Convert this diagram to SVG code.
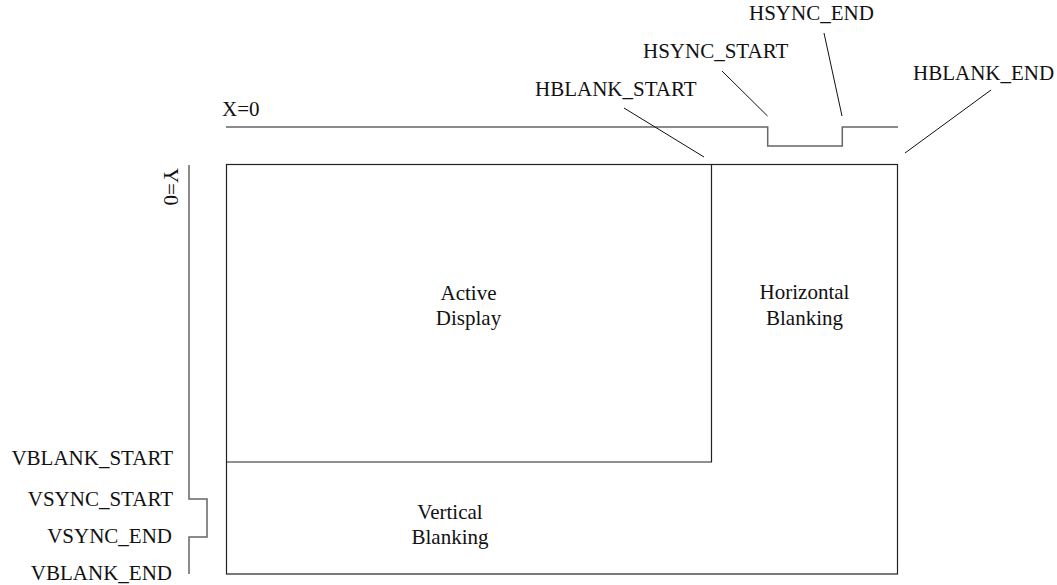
<svg xmlns="http://www.w3.org/2000/svg" width="1057" height="585" viewBox="0 0 1057 585">
<style>
text{font-family:"Liberation Serif","Times New Roman",serif;font-size:21px;fill:#111}
.box{fill:none;stroke:#222;stroke-width:1.2}
.axis{fill:none;stroke:#666;stroke-width:1.5}
.lead{fill:none;stroke:#111;stroke-width:1}
.c{text-anchor:middle}
.e{text-anchor:end}
</style>
<rect width="1057" height="585" fill="#fff"/>
<g id="screen">
<rect class="box" x="226.5" y="164.5" width="671" height="409.5"/>
</g>
<g id="active-display">
<path class="box" d="M226.5 164.5 H711.5 V462 H226.5"/>
<text class="c" x="468.5" y="300">Active</text>
<text class="c" x="468.5" y="325">Display</text>
</g>
<g id="horizontal-blanking">
<text class="c" x="804.5" y="299">Horizontal</text>
<text class="c" x="804.5" y="325">Blanking</text>
</g>
<g id="vertical-blanking">
<text class="c" x="450" y="519">Vertical</text>
<text class="c" x="450" y="544">Blanking</text>
</g>
<g id="x-axis">
<text x="222" y="116">X=0</text>
</g>
<g id="y-axis">
<text transform="translate(164,168) rotate(90)">Y=0</text>
</g>
<g id="labels">
<text x="535" y="96">HBLANK_START</text>
<text x="643" y="58">HSYNC_START</text>
<text x="749" y="20">HSYNC_END</text>
<text x="913" y="80">HBLANK_END</text>
<text class="e" x="173" y="465">VBLANK_START</text>
<text class="e" x="173" y="506">VSYNC_START</text>
<text class="e" x="172" y="543">VSYNC_END</text>
<text class="e" x="172" y="580">VBLANK_END</text>
</g>
<g id="connectors">
<path class="axis" d="M226 127 H767.7 V146 H842.3 V127 H898"/>
<path class="axis" d="M189 165 V499 H207 V537 H189 V574"/>
<line class="lead" x1="624" y1="108" x2="704" y2="157"/>
<line class="lead" x1="722" y1="71" x2="767.5" y2="116"/>
<line class="lead" x1="824" y1="33" x2="842" y2="116"/>
<line class="lead" x1="905" y1="153" x2="991" y2="90"/>
</g>
</svg>
